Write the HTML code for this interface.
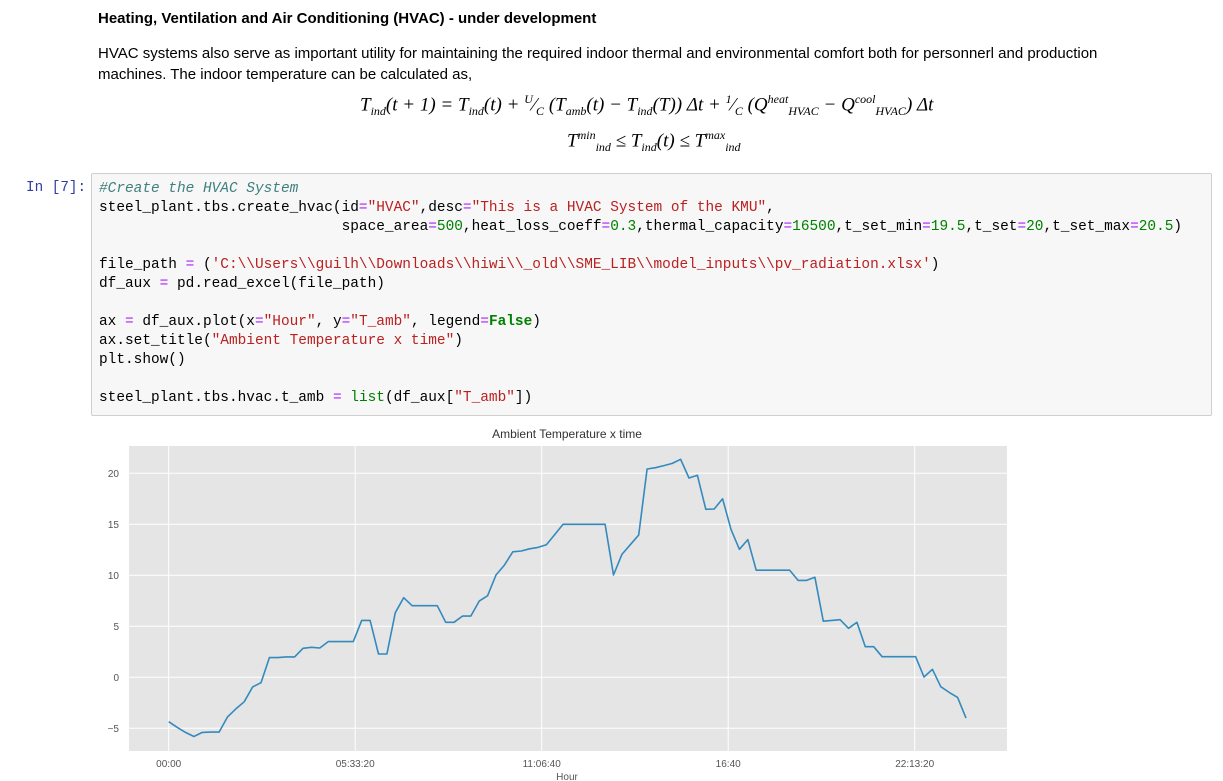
<!DOCTYPE html>
<html><head><meta charset="utf-8">
<style>
body{margin:0;width:1223px;height:781px;background:#fff;font-family:"Liberation Sans",Arial,sans-serif;position:relative;overflow:hidden;color:#000}
.abs{position:absolute}
h3{position:absolute;left:98px;top:10px;margin:0;font-size:15px;font-weight:bold}
.para{left:98px;top:43px;width:1060px;font-size:15px;line-height:21px}
.eq{font-family:"Liberation Serif",serif;font-style:italic;font-size:19px;white-space:nowrap}
.eq sub,.eq sup{font-size:12px}
.prompt{left:26px;top:180px;font-family:"Liberation Mono",monospace;font-size:14.3px;color:#303f9f}
.cell{left:91px;top:173px;width:1119px;height:241px;background:#f7f7f7;border:1px solid #cfcfcf;border-radius:2px}
pre{margin:0;position:absolute;left:7px;top:6px;font-family:"Liberation Mono",monospace;font-size:14.45px;line-height:19px;color:#000}
.c{color:#408080;font-style:italic}.s{color:#BA2121}.n{color:#008000}.o{color:#AA22FF}.k{color:#008000;font-weight:bold}
</style></head><body>
<h3>Heating, Ventilation and Air Conditioning (HVAC) - under development</h3>
<div class="abs para">HVAC systems also serve as important utility for maintaining the required indoor thermal and environmental comfort both for personnerl and production machines. The indoor temperature can be calculated as,</div>
<div class="abs eq" style="left:360px;top:92px">T<sub>ind</sub>(t + 1) = T<sub>ind</sub>(t) + <sup>U</sup>⁄<sub>C</sub> (T<sub>amb</sub>(t) − T<sub>ind</sub>(T)) Δt + <sup>1</sup>⁄<sub>C</sub> (Q<sup>heat</sup><sub>HVAC</sub> − Q<sup>cool</sup><sub>HVAC</sub>) Δt</div>
<div class="abs eq" style="left:567px;top:128px">T<sup>min</sup><sub>ind</sub> ≤ T<sub>ind</sub>(t) ≤ T<sup>max</sup><sub>ind</sub></div>
<div class="abs prompt">In [7]:</div>
<div class="abs cell"><pre><span class="c">#Create the HVAC System</span>
steel_plant.tbs.create_hvac(id<span class="o">=</span><span class="s">"HVAC"</span>,desc<span class="o">=</span><span class="s">"This is a HVAC System of the KMU"</span>,
                            space_area<span class="o">=</span><span class="n">500</span>,heat_loss_coeff<span class="o">=</span><span class="n">0.3</span>,thermal_capacity<span class="o">=</span><span class="n">16500</span>,t_set_min<span class="o">=</span><span class="n">19.5</span>,t_set<span class="o">=</span><span class="n">20</span>,t_set_max<span class="o">=</span><span class="n">20.5</span>)

file_path <span class="o">=</span> (<span class="s">'C:\\Users\\guilh\\Downloads\\hiwi\\_old\\SME_LIB\\model_inputs\\pv_radiation.xlsx'</span>)
df_aux <span class="o">=</span> pd.read_excel(file_path)

ax <span class="o">=</span> df_aux.plot(x<span class="o">=</span><span class="s">"Hour"</span>, y<span class="o">=</span><span class="s">"T_amb"</span>, legend<span class="o">=</span><span class="k">False</span>)
ax.set_title(<span class="s">"Ambient Temperature x time"</span>)
plt.show()

steel_plant.tbs.hvac.t_amb <span class="o">=</span> <span class="n">list</span>(df_aux[<span class="s">"T_amb"</span>])</pre></div>

<svg class="abs" style="left:0;top:0" width="1223" height="781">
<g id="chart"></g>
</svg>
<script>
const temps=[-4.35,-4.9,-5.4,-5.8,-5.4,-5.37,-5.37,-3.9,-3.1,-2.4,-0.95,-0.53,1.93,1.93,2.0,2.0,2.84,2.94,2.87,3.5,3.5,3.5,3.5,5.58,5.58,2.28,2.28,6.33,7.8,7.02,7.02,7.02,7.02,5.39,5.39,6.0,6.0,7.47,8.0,10.03,11.0,12.3,12.38,12.6,12.74,13.0,14.0,15.0,15.0,15.0,15.0,15.0,15.0,10.03,12.05,13.0,13.95,20.42,20.55,20.75,20.97,21.37,19.54,19.8,16.47,16.5,17.5,14.5,12.55,13.5,10.5,10.5,10.5,10.5,10.5,9.5,9.5,9.8,5.5,5.58,5.65,4.8,5.39,3.0,3.0,2.02,2.02,2.02,2.02,2.02,0.03,0.78,-0.92,-1.48,-1.97,-4.0];
const stepSeconds=900;
const yTicks=[-5,0,5,10,15,20];
const xTickSeconds=[0,20000,40000,60000,80000];
const xTickLabels=["00:00","05:33:20","11:06:40","16:40","22:13:20"];
const L=129,R=1007,T=446,B=751;
const xs=s=>168.7+s*0.009325;
const ys=v=>677.3-v*10.2;
const g=document.getElementById('chart');
const NS="http://www.w3.org/2000/svg";
function mk(t,a){const e=document.createElementNS(NS,t);for(const k in a)e.setAttribute(k,a[k]);g.appendChild(e);return e;}
let r=mk('rect',{x:L,y:T,width:R-L,height:B-T,fill:'#e5e5e5'});


yTicks.forEach(v=>{
 let l=mk('line',{x1:L,x2:R,y1:ys(v),y2:ys(v),stroke:'#fff','stroke-width':1});
 
 
 let t=mk('text',{x:119,y:ys(v)+3.5,'text-anchor':'end','font-size':'10','fill':'#555','font-family':'Liberation Sans, sans-serif'});
 t.textContent=v<0?'−'+Math.abs(v):String(v);
 
 
});
xTickSeconds.forEach((s,i)=>{
 let l=mk('line',{x1:xs(s),x2:xs(s),y1:T,y2:B,stroke:'#fff','stroke-width':1});
 
 
 let t=mk('text',{x:xs(s),y:767,'text-anchor':'middle','font-size':'10','fill':'#555','font-family':'Liberation Sans, sans-serif'});
 t.textContent=xTickLabels[i];
 
 
});
let pts=temps.map((v,i)=>xs(i*stepSeconds).toFixed(1)+','+ys(v).toFixed(1)).join(' ');
let pl=mk('polyline',{points:pts,fill:'none',stroke:'#348abd','stroke-width':1.6,'stroke-linejoin':'round'});


let tt=mk('text',{x:567,y:438,'text-anchor':'middle','font-size':'12','fill':'#333','font-family':'Liberation Sans, sans-serif'});
tt.textContent='Ambient Temperature x time';


let xl=mk('text',{x:567,y:780,'text-anchor':'middle','font-size':'10','fill':'#555','font-family':'Liberation Sans, sans-serif'});
xl.textContent='Hour';


</script>
</body></html>
